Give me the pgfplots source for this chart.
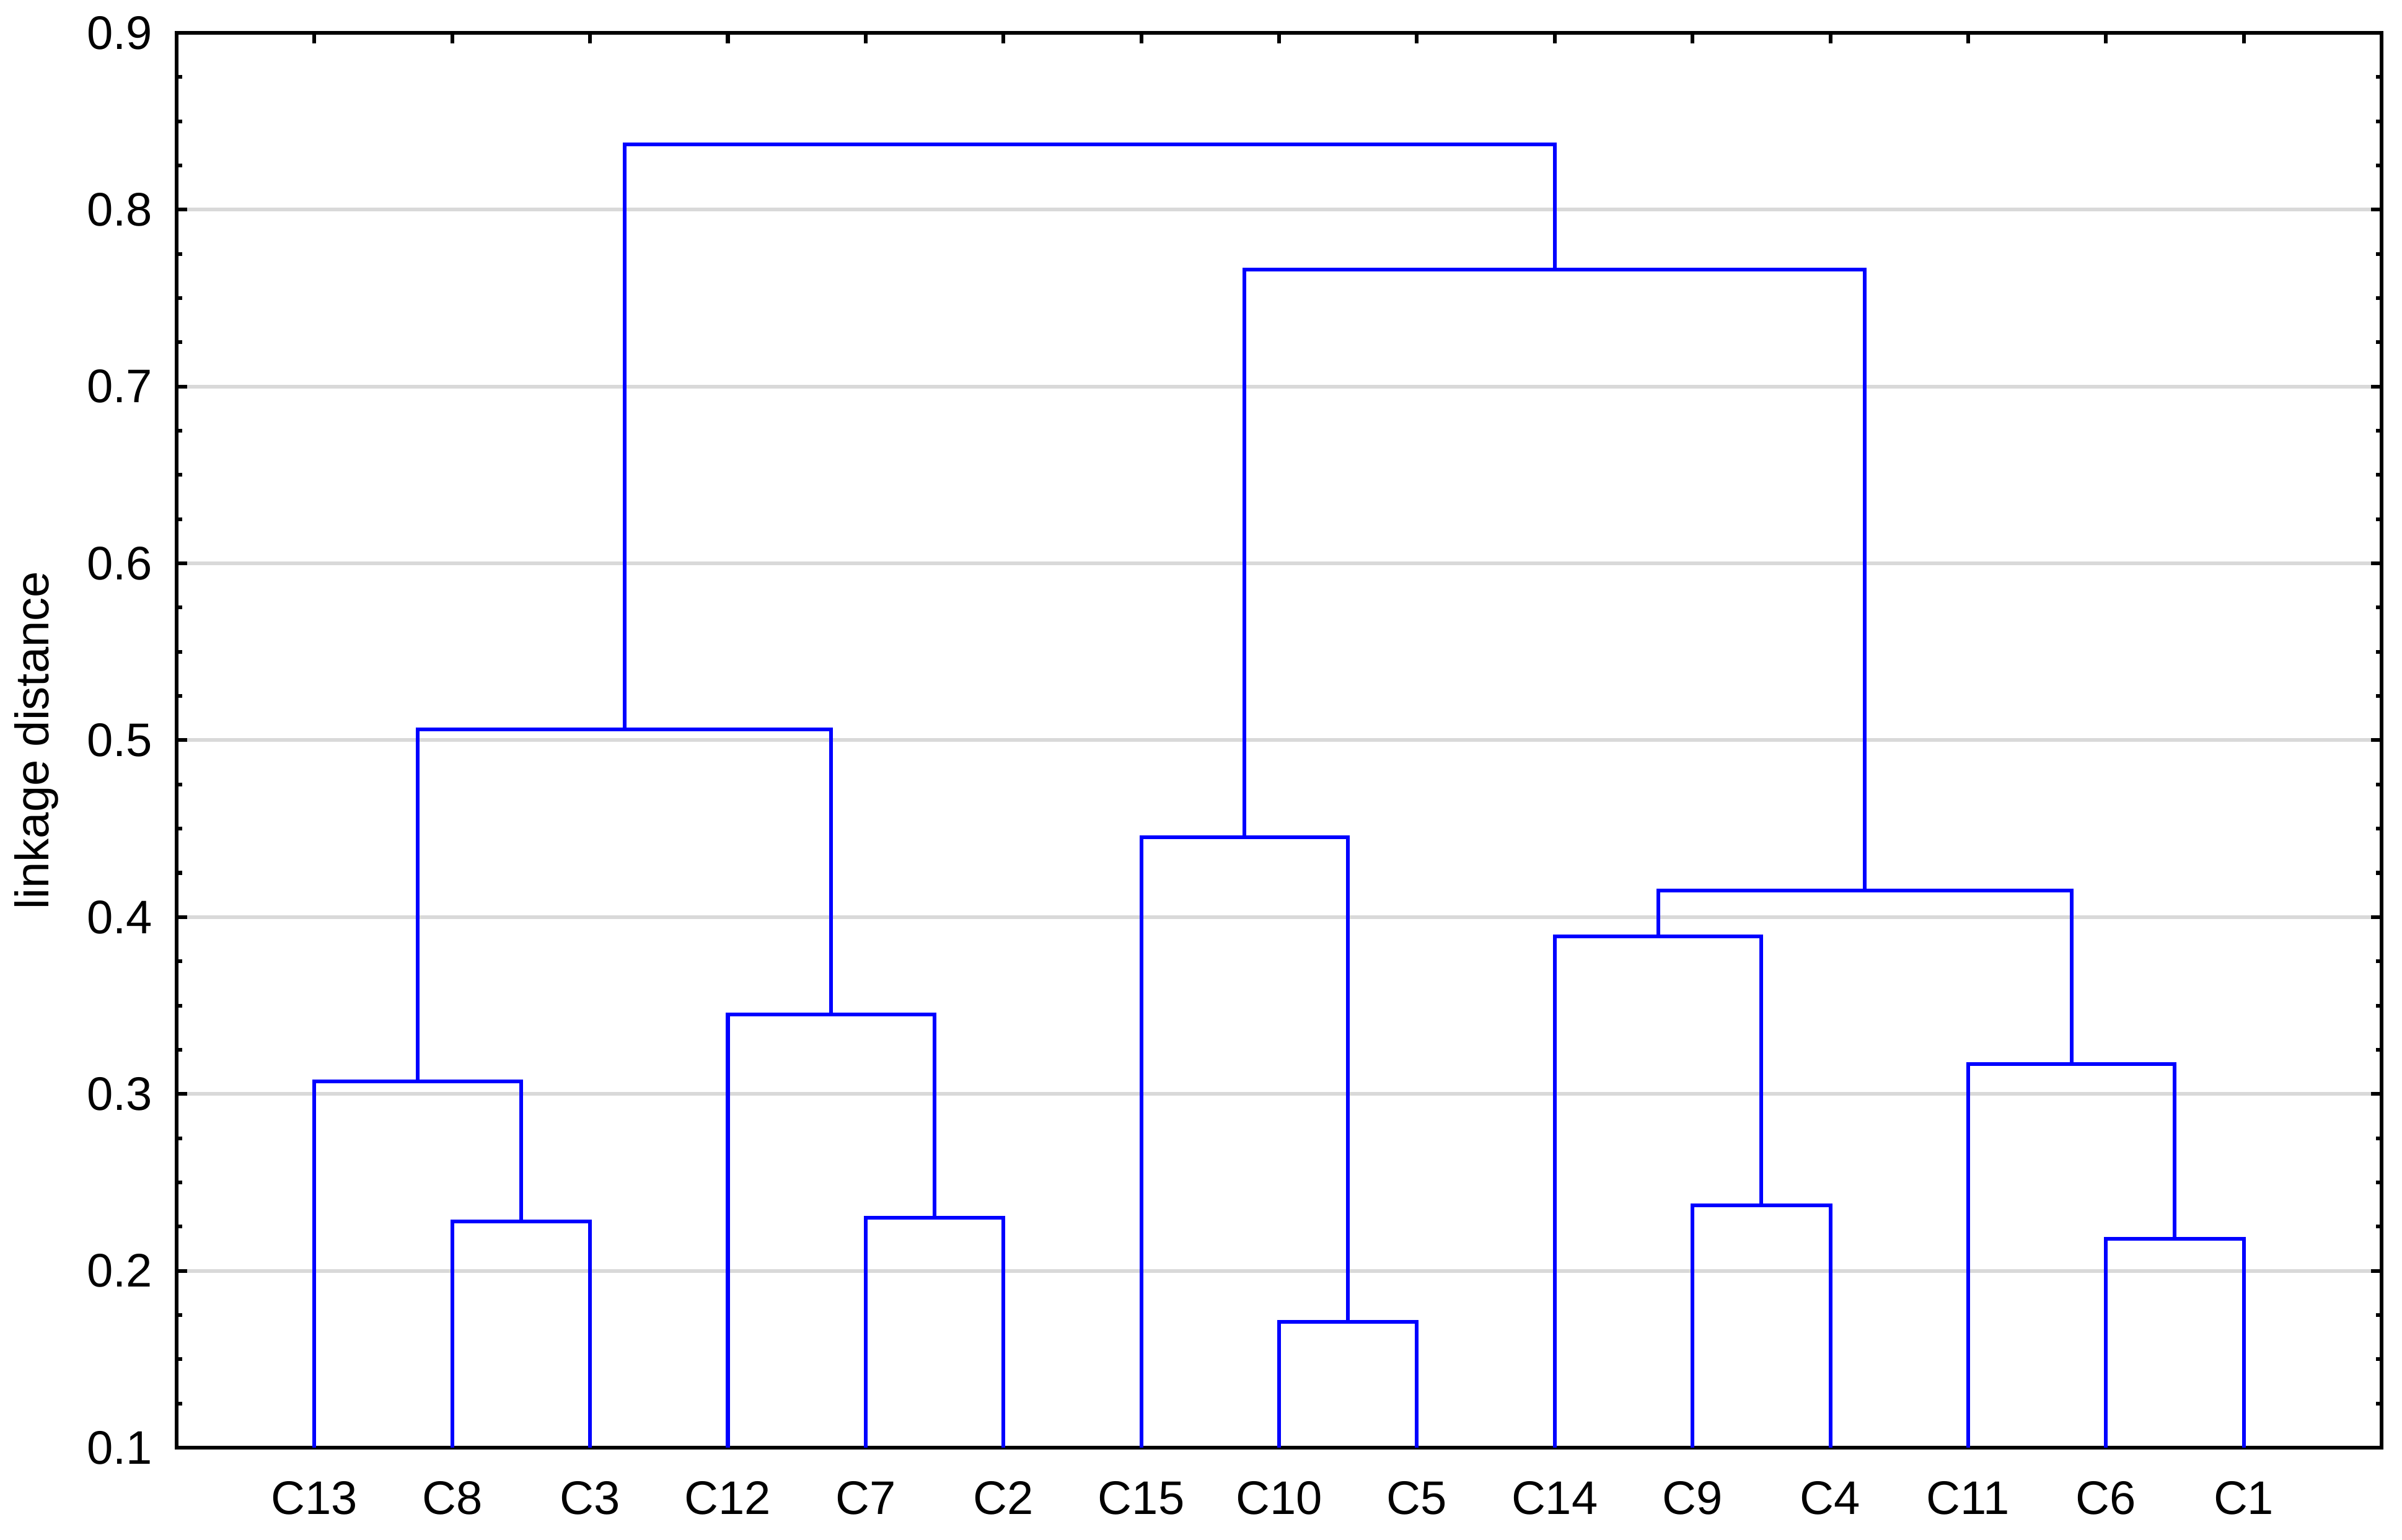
\documentclass[border=0pt]{standalone}
\usepackage{fontspec}
\setmainfont{Liberation Sans}
\usepackage{pgfplots}
\pgfplotsset{compat=1.18}

\definecolor{gridgray}{RGB}{217,217,217}

\begin{document}
\begin{tikzpicture}[font=\fontsize{10.6}{12.7}\selectfont]
\begin{axis}[name=ax,scale only axis,width=17.44cm,height=11.19cm,
  xmin=0,xmax=16,ymin=0.1,ymax=0.9,
  xtick={1,...,15},
  xticklabels={C13,C8,C3,C12,C7,C2,C15,C10,C5,C14,C9,C4,C11,C6,C1},
  ytick={0.1,0.2,0.3,0.4,0.5,0.6,0.7,0.8,0.9},
  minor y tick num=3,
  tick align=inside,tick pos=both,
  major tick length=2.4pt,minor tick length=1.3pt,
  every tick/.style={black,line width=0.84pt},
  axis line style={line width=0.8pt},
  ymajorgrids,major grid style={gridgray,line width=0.84pt},
  /pgf/number format/assume math mode=true,
  yticklabel style={/pgf/number format/fixed,/pgf/number format/precision=1,xshift=-1.9pt},
  xticklabel style={yshift=-4pt},
  ylabel={linkage distance},
  ylabel style={at={(axis description cs:-0.0739,0.5)},anchor=north,inner sep=0pt},
]
% left branch
\addplot[blue,line width=0.84pt,line join=miter] coordinates {(2,0.1) (2,0.228) (3,0.228) (3,0.1)};
\addplot[blue,line width=0.84pt,line join=miter] coordinates {(1,0.1) (1,0.307) (2.5,0.307) (2.5,0.228)};
\addplot[blue,line width=0.84pt,line join=miter] coordinates {(5,0.1) (5,0.230) (6,0.230) (6,0.1)};
\addplot[blue,line width=0.84pt,line join=miter] coordinates {(4,0.1) (4,0.345) (5.5,0.345) (5.5,0.230)};
\addplot[blue,line width=0.84pt,line join=miter] coordinates {(1.75,0.307) (1.75,0.506) (4.75,0.506) (4.75,0.345)};
% middle branch
\addplot[blue,line width=0.84pt,line join=miter] coordinates {(8,0.1) (8,0.171) (9,0.171) (9,0.1)};
\addplot[blue,line width=0.84pt,line join=miter] coordinates {(7,0.1) (7,0.445) (8.5,0.445) (8.5,0.171)};
% right branch
\addplot[blue,line width=0.84pt,line join=miter] coordinates {(11,0.1) (11,0.237) (12,0.237) (12,0.1)};
\addplot[blue,line width=0.84pt,line join=miter] coordinates {(10,0.1) (10,0.389) (11.5,0.389) (11.5,0.237)};
\addplot[blue,line width=0.84pt,line join=miter] coordinates {(14,0.1) (14,0.218) (15,0.218) (15,0.1)};
\addplot[blue,line width=0.84pt,line join=miter] coordinates {(13,0.1) (13,0.317) (14.5,0.317) (14.5,0.218)};
\addplot[blue,line width=0.84pt,line join=miter] coordinates {(10.75,0.389) (10.75,0.415) (13.75,0.415) (13.75,0.317)};
% top merges
\addplot[blue,line width=0.84pt,line join=miter] coordinates {(7.75,0.445) (7.75,0.766) (12.25,0.766) (12.25,0.415)};
\addplot[blue,line width=0.84pt,line join=miter] coordinates {(3.25,0.506) (3.25,0.837) (10,0.837) (10,0.766)};
\end{axis}
\pgfresetboundingbox
\path[use as bounding box] ([shift={(-1.397cm,-0.730cm)}]ax.south west) rectangle ([shift={(0.162cm,0.260cm)}]ax.north east);
\end{tikzpicture}
\end{document}
